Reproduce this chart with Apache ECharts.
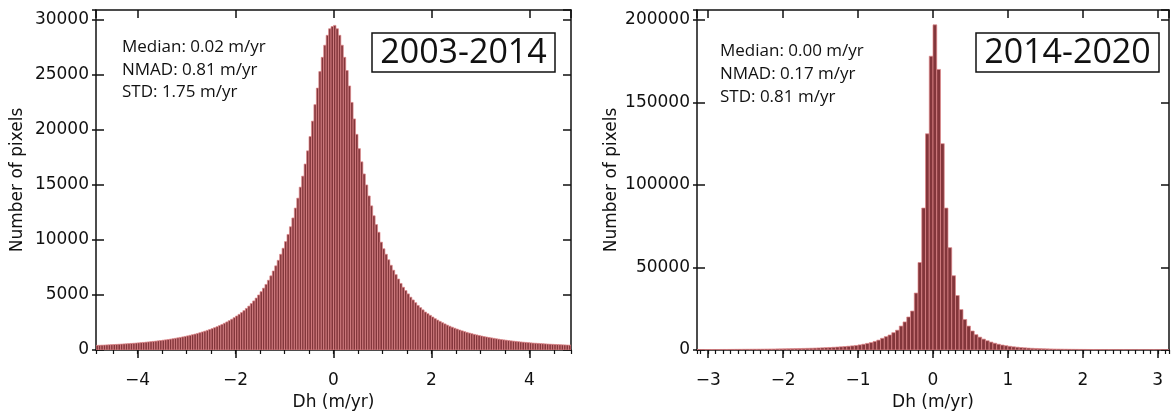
<!DOCTYPE html>
<html>
<head>
<meta charset="utf-8">
<script src="https://cdn.jsdelivr.net/npm/echarts@6/dist/echarts.min.js"></script>
<style>html,body{margin:0;padding:0;background:#fff}#c{width:1174px;height:416px}</style>
</head>
<body>
<div id="c"></div>
<script>
// ---------- DATA ----------
// Panel A: 2003-2014, bins of 0.05 m/yr from -4.85 to 4.85
const binWidthA = 0.05;
const binStartA = -4.85;
const countsA_neg = [
 420,430,440,450,462,474,486,498,510,524,538,552,566,582,598,614,632,650,670,690,
 712,734,758,782,808,835,862,892,922,955,990,1025,1065,1105,1145,1190,1235,1285,1335,1390,
 1445,1505,1570,1640,1710,1785,1865,1945,2030,2120,2220,2320,2430,2550,2670,2800,2940,3090,3240,3400,
 3580,3780,3990,4220,4460,4720,5000,5300,5620,5960,6340,6740,7180,7650,8150,8700,9250,9850,10500,11200,
 12000,12900,13800,14800,15800,16900,18100,19400,20800,22300,23800,25300,26600,27700,28600,29200,29400
];
const countsA_pos = [
 29500,29200,28600,27700,26600,25400,24000,22500,21000,19600,18300,17100,16000,15000,14000,13100,12200,11400,10700,9800,
 9200,8700,8200,7700,7250,6850,6450,6050,5700,5400,5100,4800,4550,4300,4050,3850,3650,3450,3300,3150,
 3000,2850,2720,2600,2480,2370,2260,2160,2070,1980,1900,1820,1740,1670,1600,1540,1480,1420,1370,1320,
 1270,1220,1180,1140,1100,1060,1020,985,950,920,890,860,830,805,780,755,730,710,690,670,
 650,630,615,600,585,570,555,540,528,516,504,492,480,470,460,450,440
];
// Panel B: 2014-2020, bins of 0.05 m/yr from -3.15 to 3.15
const binWidthB = 0.05;
const binStartB = -3.15;
const countsB_neg = [
 250,260,270,280,290,300,315,330,345,360,380,400,420,440,460,480,500,530,560,590,620,660,700,
 740,780,820,870,920,970,1030,1090,1160,1240,
 1330,1430,1540,1660,1800,1950,2120,2300,2500,2750,
 3100,3500,4000,4500,5200,
 6000,7100,8100,9100,10500,12000,14500,17000,20000,23600,34500,53000,86000,131000,178000
];
const countsB_pos = [
 197000,170000,125000,86000,62000,45000,33000,24500,18500,14500,
 11500,9300,7800,6600,5600,4800,4100,3500,3000,2600,
 2250,1950,1700,1500,1320,1170,1040,930,840,760,
 690,630,580,535,495,460,430,400,375,355,
 335,318,302,288,275,263,252,242,233,224,216,208,201,194,188,182,176,171,166,161,157,153,149
];
const xRangeA = [-4.85, 4.85];
const xRangeB = [-3.15, 3.15];
const yMaxA = 30900, yStepA = 5000;
const yMaxB = 206000, yStepB = 50000;
const periodA = '2003-2014', periodB = '2014-2020';
const statsA = ['Median: 0.02 m/yr', 'NMAD: 0.81 m/yr', 'STD: 1.75 m/yr'];
const statsB = ['Median: 0.00 m/yr', 'NMAD: 0.17 m/yr', 'STD: 0.81 m/yr'];
const xTitle = 'Dh (m/yr)';
const yTitle = 'Number of pixels';

// ---------- BUILD ----------
function toBins(start, w, counts) {
  return counts.map((c, i) => [start + (i + 0.5) * w, c]);
}
const dataA = toBins(binStartA, binWidthA, countsA_neg.concat(countsA_pos));
const dataB = toBins(binStartB, binWidthB, countsB_neg.concat(countsB_pos));

const BAR_FILL = '#83363b', BAR_EDGE = '#e0878a';
const tickFont = { fontFamily: 'DejaVu Sans', fontSize: 17, color: '#111' };
const black = { color: '#111', width: 1.5 };

function barRenderer(w) {
  return function (params, api) {
    const x = api.value(0), y = api.value(1);
    const p0 = api.coord([x - w / 2, y]);
    const p1 = api.coord([x + w / 2, 0]);
    return {
      type: 'rect',
      shape: { x: p0[0], y: p0[1], width: p1[0] - p0[0], height: p1[1] - p0[1] },
      style: { fill: BAR_FILL, stroke: BAR_EDGE, lineWidth: 0.7 }
    };
  };
}
function fmtX(v) {
  if (Math.abs(v - Math.round(v)) > 1e-6) return '';
  const r = Math.round(v);
  return r < 0 ? '\u2212' + Math.abs(r) : String(r);
}
function xAxes(grid, range, split, minorSplit) {
  return [
    { gridIndex: grid, type: 'value', min: range[0], max: range[1], splitNumber: split, position: 'bottom',
      axisLine: { show: true, onZero: false, lineStyle: black },
      axisTick: { show: true, inside: false, length: 8, lineStyle: black },
      axisLabel: Object.assign({ margin: 22, formatter: fmtX, showMinLabel: false, showMaxLabel: false }, tickFont),
      splitLine: { show: false },
      name: xTitle, nameLocation: 'middle', nameGap: 44, nameTextStyle: tickFont },
    { gridIndex: grid, type: 'value', min: range[0], max: range[1], splitNumber: minorSplit, position: 'bottom',
      axisLine: { show: false, onZero: false },
      axisTick: { show: true, inside: false, length: 4, lineStyle: { color: '#111', width: 1.2 } },
      axisLabel: { show: false }, splitLine: { show: false } },
    { gridIndex: grid, type: 'value', min: range[0], max: range[1], splitNumber: split, position: 'top',
      axisLine: { show: true, onZero: false, lineStyle: black },
      axisTick: { show: true, inside: true, length: 8, lineStyle: black },
      axisLabel: { show: false }, splitLine: { show: false } }
  ];
}
function yAxes(grid, max, step, gap) {
  return [
    { gridIndex: grid, type: 'value', min: 0, max: max, interval: step, position: 'left',
      axisLine: { show: true, onZero: false, lineStyle: black },
      axisTick: { show: true, inside: true, length: 8, lineStyle: black },
      axisLabel: Object.assign({ margin: 7, showMaxLabel: false, formatter: v => String(v) }, tickFont),
      splitLine: { show: false },
      name: yTitle, nameLocation: 'middle', nameGap: gap, nameTextStyle: tickFont },
    { gridIndex: grid, type: 'value', min: 0, max: max, interval: step, position: 'left',
      axisLine: { show: false, onZero: false },
      axisTick: { show: true, inside: false, length: 4, lineStyle: black },
      axisLabel: { show: false }, splitLine: { show: false } },
    { gridIndex: grid, type: 'value', min: 0, max: max, interval: step, position: 'right',
      axisLine: { show: true, onZero: false, lineStyle: black },
      axisTick: { show: true, inside: true, length: 8, lineStyle: black },
      axisLabel: { show: false }, splitLine: { show: false } }
  ];
}

const statFont = '17px "Open Sans"';
const boxFont = '34px "Open Sans"';
function panelGraphics(boxX, boxY, boxW, boxH, label, stats, sx, sy, lh) {
  return [
    { type: 'rect', z: 10, shape: { x: boxX, y: boxY, width: boxW, height: boxH },
      style: { fill: '#fff', stroke: '#111', lineWidth: 1.5 } },
    { type: 'text', z: 11, x: boxX + boxW / 2, y: boxY + boxH / 2 + 1,
      style: { text: label, font: boxFont, fill: '#111', align: 'center', verticalAlign: 'middle' } },
    { type: 'text', z: 11, x: sx, y: sy,
      style: { text: stats.join('\n'), font: statFont, fill: '#111', lineHeight: lh, align: 'left', verticalAlign: 'top' } }
  ];
}

const option = {
  animation: false,
  backgroundColor: '#fff',
  grid: [
    { left: 96, top: 10, width: 475, height: 340 },
    { left: 697, top: 10, width: 472, height: 340 }
  ],
  xAxis: xAxes(0, xRangeA, 5, 19).concat(xAxes(1, xRangeB, 6, 63)),
  yAxis: yAxes(0, yMaxA, yStepA, 70).concat(yAxes(1, yMaxB, yStepB, 77)),
  series: [
    { type: 'custom', xAxisIndex: 0, yAxisIndex: 0, renderItem: barRenderer(binWidthA), data: dataA,
      encode: { x: 0, y: 1 }, clip: true, z: 3 },
    { type: 'custom', xAxisIndex: 3, yAxisIndex: 3, renderItem: barRenderer(binWidthB), data: dataB,
      encode: { x: 0, y: 1 }, clip: true, z: 3 }
  ],
  graphic: panelGraphics(372, 33, 183, 39, periodA, statsA, 122, 36, 22.5)
    .concat(panelGraphics(976, 33, 183, 39, periodB, statsB, 720, 40, 23))
};
const chart = echarts.init(document.getElementById('c'), null, { renderer: 'canvas' });
chart.setOption(option);
</script>
</body>
</html>
